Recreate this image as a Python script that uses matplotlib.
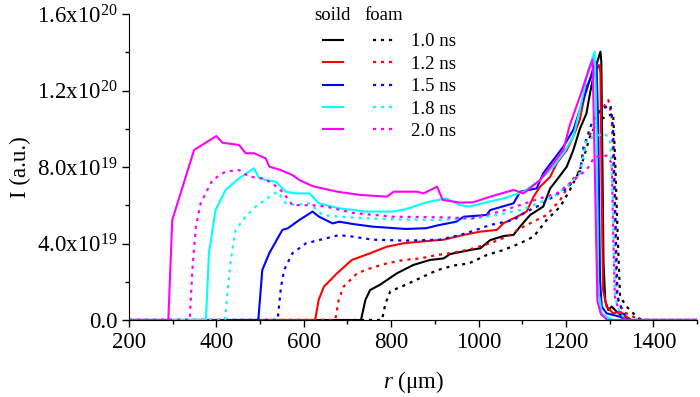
import numpy as np
import matplotlib
matplotlib.use('Agg')
import matplotlib.pyplot as plt
from matplotlib.ticker import FixedLocator, MultipleLocator

plt.rcParams['font.family'] = ['Liberation Serif', 'DejaVu Serif']
plt.rcParams['mathtext.fontset'] = 'custom'
plt.rcParams['mathtext.rm'] = 'Liberation Serif'
plt.rcParams['mathtext.it'] = 'Liberation Serif:italic'

# intensity in units of 1e19, r in um
k10s_x = [200, 731, 741, 752, 775, 813, 851, 889, 920, 935, 981, 1004, 1027, 1057, 1080, 1095, 1118, 1148, 1164, 1179, 1202, 1217, 1232, 1247, 1255, 1266, 1279, 1281, 1286, 1290, 1297, 1305, 1316, 1331, 1347, 1500]
k10s_y = [0, 0, 1.05, 1.57, 1.85, 2.44, 2.88, 3.14, 3.22, 3.45, 3.66, 3.75, 4.18, 4.39, 4.45, 4.88, 5.49, 5.93, 6.88, 7.32, 8.02, 8.89, 10.0, 10.8, 11.85, 13.07, 14.03, 13.5, 3.0, 1.0, 0.52, 0.7, 0.44, 0.17, 0, 0]
k10f_x = [200, 779, 787, 798, 829, 867, 905, 943, 977, 1019, 1057, 1095, 1126, 1156, 1187, 1209, 1232, 1255, 1274, 1293, 1308, 1313, 1318, 1324, 1339, 1354, 1366, 1377, 1500]
k10f_y = [0, 0, 0.87, 1.5, 1.8, 2.2, 2.6, 2.85, 2.95, 3.4, 3.66, 4.01, 4.36, 5.23, 5.93, 6.8, 7.84, 9.59, 10.46, 10.63, 10.8, 8.19, 4.7, 1.22, 0.7, 0.35, 0.09, 0, 0]

r12s_x = [200, 626, 634, 646, 676, 710, 752, 790, 828, 867, 920, 966, 1004, 1042, 1057, 1088, 1110, 1126, 1141, 1164, 1179, 1202, 1217, 1232, 1247, 1263, 1276, 1279, 1282, 1285, 1293, 1308, 1324, 1339, 1350, 1500]
r12s_y = [0, 0, 1.05, 1.74, 2.44, 3.14, 3.49, 3.83, 4.01, 4.1, 4.2, 4.45, 4.62, 4.71, 5.06, 5.4, 5.67, 6.45, 6.97, 7.49, 8.19, 8.89, 9.59, 10.5, 12.2, 12.9, 13.33, 12.9, 6.45, 1.57, 0.7, 0.35, 0.44, 0.17, 0, 0]
r12f_x = [200, 672, 680, 691, 722, 752, 790, 829, 867, 905, 935, 981, 1027, 1065, 1103, 1133, 1156, 1187, 1209, 1232, 1247, 1266, 1282, 1297, 1305, 1308, 1312, 1316, 1331, 1354, 1369, 1500]
r12f_y = [0, 0, 1.05, 1.74, 2.44, 2.7, 2.96, 3.14, 3.22, 3.4, 3.49, 3.7, 4.01, 4.36, 4.88, 5.23, 5.49, 6.28, 7.15, 7.84, 9.41, 10.11, 10.98, 11.5, 10.63, 8.19, 4.7, 1.22, 0.44, 0.17, 0, 0]

b15s_x = [200, 496, 505, 521, 551, 563, 590, 620, 635, 666, 681, 712, 758, 834, 880, 911, 949, 966, 1018, 1027, 1080, 1095, 1133, 1148, 1171, 1194, 1217, 1232, 1247, 1266, 1270, 1274, 1278, 1282, 1293, 1324, 1339, 1500]
b15s_y = [0, 0, 2.61, 3.49, 4.71, 4.79, 5.23, 5.67, 5.4, 5.05, 5.14, 5.02, 4.88, 4.76, 4.8, 4.97, 5.14, 5.4, 5.49, 5.75, 6.1, 6.71, 6.88, 7.67, 8.37, 9.06, 9.94, 11.0, 12.0, 13.42, 13.5, 9.94, 2.1, 0.7, 0.35, 0.17, 0, 0]
b15f_x = [200, 540, 548, 555, 574, 605, 651, 681, 712, 758, 834, 911, 957, 987, 1027, 1080, 1110, 1141, 1171, 1202, 1232, 1240, 1259, 1278, 1302, 1308, 1312, 1318, 1331, 1347, 1500]
b15f_y = [0, 0, 1.74, 2.61, 3.49, 4.01, 4.27, 4.44, 4.36, 4.2, 4.15, 4.2, 4.44, 4.65, 4.97, 5.23, 5.67, 6.01, 6.45, 6.88, 7.67, 9.0, 10.28, 10.98, 11.24, 9.94, 6.45, 1.22, 0.35, 0, 0]

c18s_x = [200, 376, 383, 398, 421, 452, 486, 498, 513, 536, 559, 582, 613, 635, 681, 743, 804, 834, 880, 926, 957, 979, 1025, 1057, 1103, 1141, 1171, 1194, 1217, 1232, 1251, 1266, 1270, 1274, 1282, 1293, 1308, 1500]
c18s_y = [0, 0, 3.49, 5.75, 6.8, 7.41, 7.93, 7.41, 7.32, 7.23, 6.71, 6.62, 6.62, 6.1, 5.84, 5.67, 5.67, 5.8, 6.15, 6.36, 6.01, 5.93, 6.19, 6.36, 6.71, 7.32, 8.02, 8.71, 9.59, 11.0, 13.07, 14.03, 9.94, 1.57, 0.35, 0.17, 0, 0]
c18f_x = [200, 420, 425, 433, 444, 467, 490, 528, 540, 559, 582, 613, 643, 681, 758, 834, 911, 987, 1042, 1095, 1126, 1171, 1202, 1232, 1247, 1266, 1289, 1301, 1307, 1312, 1324, 1339, 1500]
c18f_y = [0, 0, 1.39, 3.14, 4.71, 5.4, 5.93, 6.54, 6.71, 6.1, 6.01, 6.1, 5.49, 5.4, 5.3, 5.25, 5.23, 5.3, 5.49, 5.75, 6.01, 6.45, 6.97, 7.67, 9.41, 9.59, 9.76, 9.41, 6.45, 1.22, 0.35, 0, 0]

m20s_x = [200, 290, 299, 349, 400, 414, 452, 467, 486, 513, 521, 547, 574, 590, 620, 676, 729, 790, 806, 859, 874, 905, 918, 957, 987, 1027, 1080, 1103, 1141, 1171, 1194, 1209, 1232, 1247, 1261, 1266, 1272, 1280, 1295, 1500]
m20s_y = [0, 0, 5.23, 8.89, 9.62, 9.27, 9.15, 8.72, 8.72, 8.45, 8.02, 7.84, 7.58, 7.32, 7.0, 6.71, 6.54, 6.45, 6.71, 6.71, 6.62, 6.97, 6.28, 6.14, 6.15, 6.45, 6.8, 6.62, 7.32, 8.19, 8.89, 10.2, 11.68, 12.72, 13.63, 8.0, 1.0, 0.3, 0, 0]
m20f_x = [200, 339, 345, 353, 364, 391, 421, 452, 475, 506, 528, 551, 574, 620, 651, 712, 804, 911, 987, 1049, 1095, 1141, 1179, 1209, 1232, 1247, 1266, 1282, 1293, 1305, 1308, 1312, 1324, 1339, 1500]
m20f_y = [0, 0, 2.61, 4.88, 6.1, 7.32, 7.76, 7.84, 7.49, 7.41, 7.15, 6.71, 6.01, 6.0, 5.93, 5.6, 5.4, 5.37, 5.32, 5.67, 6.01, 6.36, 6.62, 7.15, 7.58, 7.84, 8.54, 8.54, 8.6, 8.19, 4.7, 1.22, 0.26, 0, 0]

times = ['1.0 ns', '1.2 ns', '1.5 ns', '1.8 ns', '2.0 ns']
colors = ['black', 'red', 'blue', 'cyan', 'magenta']
solid = [(k10s_x, k10s_y), (r12s_x, r12s_y), (b15s_x, b15s_y), (c18s_x, c18s_y), (m20s_x, m20s_y)]
foam = [(k10f_x, k10f_y), (r12f_x, r12f_y), (b15f_x, b15f_y), (c18f_x, c18f_y), (m20f_x, m20f_y)]

W, H = 700, 397
fig = plt.figure(figsize=(W / 100, H / 100), dpi=100)
ax = fig.add_axes([129 / W, 1 - 320 / H, (697 - 129) / W, (320 - 14) / H])

dot = (0, (1.4, 2.2))
sol_h, foam_h = [], []
for (sx, sy), (fx, fy), c in zip(solid, foam, colors):
    h1, = ax.plot(sx, np.array(sy) * 1e19, color=c, lw=1.5)
    h2, = ax.plot(fx, np.array(fy) * 1e19, color=c, lw=1.6, linestyle=dot)
    sol_h.append(h1)
    foam_h.append(h2)

ax.set_xlim(200, 1500)
ax.set_ylim(0, 1.6e20)
ax.xaxis.set_major_locator(MultipleLocator(200))
ax.xaxis.set_minor_locator(MultipleLocator(100))
yt = [0, 4e19, 8e19, 1.2e20, 1.6e20]
ax.yaxis.set_major_locator(FixedLocator(yt))
ax.set_yticklabels(['0.0', r'4.0x10$^{19}$', r'8.0x10$^{19}$', r'1.2x10$^{20}$', r'1.6x10$^{20}$'])
ax.yaxis.set_minor_locator(MultipleLocator(2e19))
ax.tick_params(which='major', direction='out', length=5, width=1, labelsize=16.5)
ax.tick_params(which='minor', direction='out', length=3, width=1)
for s in ['top', 'right']:
    ax.spines[s].set_visible(False)

ax.set_xlabel(r'$\mathit{r}$ (μm)', fontsize=16.5, labelpad=12)
ax.set_ylabel('I (a.u.)', fontsize=16.5, labelpad=4)

leg = ax.legend(sol_h + foam_h, [''] * 5 + times, ncol=2, frameon=False,
                fontsize=13.5, handlelength=1.07, handletextpad=0.96,
                columnspacing=0.6, labelspacing=0.28, borderpad=0,
                loc='upper left', bbox_to_anchor=(314 / W, 1 - 24 / H),
                bbox_transform=fig.transFigure)
fig.text(332 / W, 1 - 15 / H, 'soild', fontsize=13.5, ha='center', va='center')
fig.text(384 / W, 1 - 15 / H, 'foam', fontsize=13.5, ha='center', va='center')

fig.savefig('out.png', dpi=100)
